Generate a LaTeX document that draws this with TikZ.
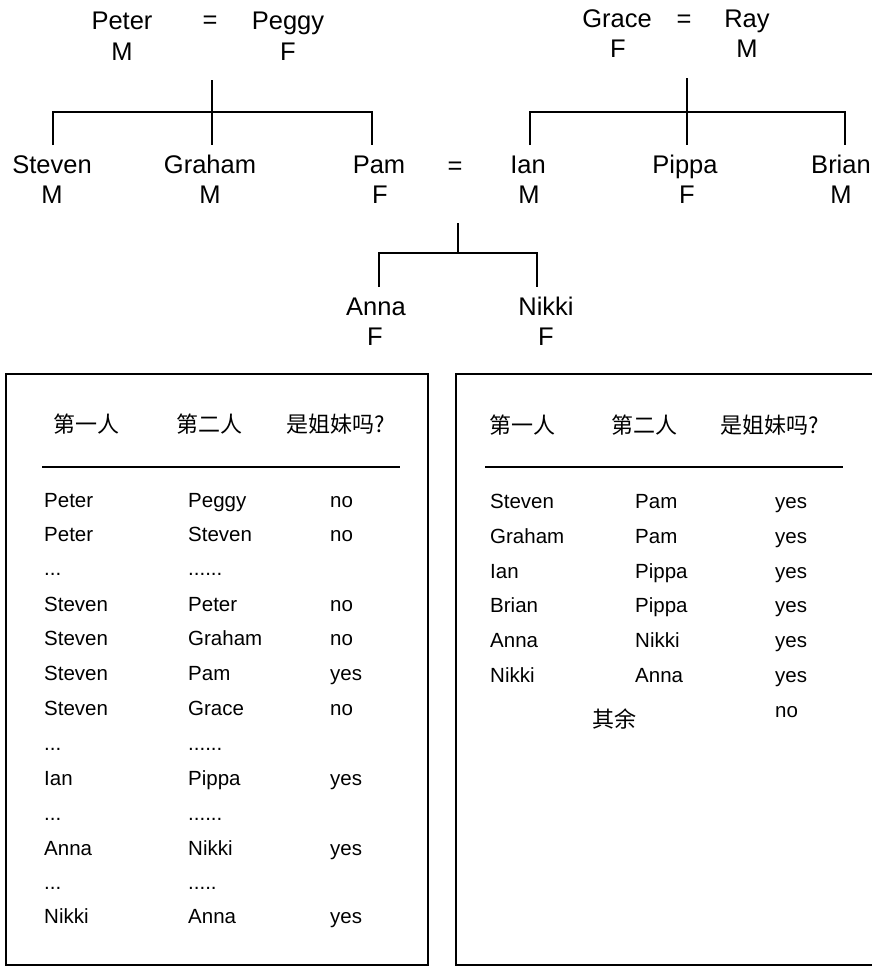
\documentclass[tikz,border=0pt]{standalone}
\usepackage{fontspec}
\setmainfont{Liberation Sans}
\newfontfamily\cjk{Noto Sans CJK SC}
\begin{document}
\begin{tikzpicture}[x=1pt,y=-1pt,
  person/.style={font=\fontsize{25.5}{30}\selectfont, inner sep=0pt, anchor=base},
  eqsign/.style={font=\fontsize{25.5}{30}\selectfont, inner sep=0pt},
  kin/.style={line width=1.3pt},
  cell/.style={font=\fontsize{20.5}{24}\selectfont, inner sep=0pt, anchor=base west},
  head/.style={font=\cjk\fontsize{22}{26}\selectfont, inner sep=0pt},
  frame/.style={line width=1.4pt},
  rulestyle/.style={line width=1.2pt}]
\useasboundingbox (0,0) rectangle (872,966);

% ---------- family tree ----------
\node[person] (peter)  at (122,30) {Peter};
\node[person] (peterS) at (122,60) {M};
\node[eqsign] (eq1)    at (210,22) {=};
\node[person] (peggy)  at (288,30) {Peggy};
\node[person] (peggyS) at (288,60) {F};

\node[person] (grace)  at (617,28) {Grace};
\node[person] (graceS) at (618,58) {F};
\node[eqsign] (eq2)    at (684,21) {=};
\node[person] (ray)    at (747,28) {Ray};
\node[person] (rayS)   at (747,58) {M};

\node[person] (steven)  at (52,173) {Steven};
\node[person] (stevenS) at (52,203) {M};
\node[person] (graham)  at (210,173) {Graham};
\node[person] (grahamS) at (210,203) {M};
\node[person] (pam)     at (379,173) {Pam};
\node[person] (pamS)    at (380,203) {F};
\node[eqsign] (eq3)     at (455,168) {=};
\node[person] (ian)     at (528,173) {Ian};
\node[person] (ianS)    at (529,203) {M};
\node[person] (pippa)   at (685,173) {Pippa};
\node[person] (pippaS)  at (687,203) {F};
\node[person] (brian)   at (841,173) {Brian};
\node[person] (brianS)  at (841,203) {M};

\node[person] (anna)   at (376,315) {Anna};
\node[person] (annaS)  at (375,345) {F};
\node[person] (nikki)  at (546,315) {Nikki};
\node[person] (nikkiS) at (546,345) {F};

\coordinate (f1) at (212,80);
\coordinate (b1) at (212,112);
\coordinate (d-steven) at (53,145);
\coordinate (d-graham) at (212,145);
\coordinate (d-pam) at (372,145);
\draw[kin] (f1) -- (d-graham);
\draw[kin] (d-steven) |- (b1) -| (d-pam);

\coordinate (f2) at (687,78);
\coordinate (b2) at (687,112);
\coordinate (d-ian) at (530,145);
\coordinate (d-pippa) at (687,145);
\coordinate (d-brian) at (845,145);
\draw[kin] (f2) -- (d-pippa);
\draw[kin] (d-ian) |- (b2) -| (d-brian);

\coordinate (f3) at (458,223);
\coordinate (b3) at (458,253);
\coordinate (d-anna) at (379,287);
\coordinate (d-nikki) at (537,287);
\draw[kin] (f3) -- (b3);
\draw[kin] (d-anna) |- (b3) -| (d-nikki);

% ---------- left table ----------
\draw[frame] (6,374) rectangle (428,965);
\node[head] (lh1) at (86,424) {第一人};
\node[head] (lh2) at (209,424) {第二人};
\node[head] (lh3) at (336,424) {是姐妹吗?};
\coordinate (lr1) at (42,467);
\coordinate (lr2) at (400,467);
\draw[rulestyle] (lr1) -- (lr2);

\node[cell] (l1a) at (44,507) {Peter};  \node[cell] (l1b) at (188,507) {Peggy};  \node[cell] (l1c) at (330,507) {no};
\node[cell] (l2a) at (44,541) {Peter};  \node[cell] (l2b) at (188,541) {Steven}; \node[cell] (l2c) at (330,541) {no};
\node[cell] (l3a) at (44,575) {...};    \node[cell] (l3b) at (188,575) {......};
\node[cell] (l4a) at (44,611) {Steven}; \node[cell] (l4b) at (188,611) {Peter};  \node[cell] (l4c) at (330,611) {no};
\node[cell] (l5a) at (44,645) {Steven}; \node[cell] (l5b) at (188,645) {Graham}; \node[cell] (l5c) at (330,645) {no};
\node[cell] (l6a) at (44,680) {Steven}; \node[cell] (l6b) at (188,680) {Pam};    \node[cell] (l6c) at (330,680) {yes};
\node[cell] (l7a) at (44,715) {Steven}; \node[cell] (l7b) at (188,715) {Grace};  \node[cell] (l7c) at (330,715) {no};
\node[cell] (l8a) at (44,750) {...};    \node[cell] (l8b) at (188,750) {......};
\node[cell] (l9a) at (44,785) {Ian};    \node[cell] (l9b) at (188,785) {Pippa};  \node[cell] (l9c) at (330,785) {yes};
\node[cell] (l10a) at (44,820) {...};   \node[cell] (l10b) at (188,820) {......};
\node[cell] (l11a) at (44,855) {Anna};  \node[cell] (l11b) at (188,855) {Nikki}; \node[cell] (l11c) at (330,855) {yes};
\node[cell] (l12a) at (44,889) {...};   \node[cell] (l12b) at (188,889) {.....};
\node[cell] (l13a) at (44,923) {Nikki}; \node[cell] (l13b) at (188,923) {Anna};  \node[cell] (l13c) at (330,923) {yes};

% ---------- right table ----------
\draw[frame] (456,374) rectangle (880,965);
\node[head] (rh1) at (522,425) {第一人};
\node[head] (rh2) at (644,425) {第二人};
\node[head] (rh3) at (770,425) {是姐妹吗?};
\coordinate (rr1) at (485,467);
\coordinate (rr2) at (843,467);
\draw[rulestyle] (rr1) -- (rr2);

\node[cell] (r1a) at (490,508) {Steven}; \node[cell] (r1b) at (635,508) {Pam};   \node[cell] (r1c) at (775,508) {yes};
\node[cell] (r2a) at (490,543) {Graham}; \node[cell] (r2b) at (635,543) {Pam};   \node[cell] (r2c) at (775,543) {yes};
\node[cell] (r3a) at (490,578) {Ian};    \node[cell] (r3b) at (635,578) {Pippa}; \node[cell] (r3c) at (775,578) {yes};
\node[cell] (r4a) at (490,612) {Brian};  \node[cell] (r4b) at (635,612) {Pippa}; \node[cell] (r4c) at (775,612) {yes};
\node[cell] (r5a) at (490,647) {Anna};   \node[cell] (r5b) at (635,647) {Nikki}; \node[cell] (r5c) at (775,647) {yes};
\node[cell] (r6a) at (490,682) {Nikki};  \node[cell] (r6b) at (635,682) {Anna};  \node[cell] (r6c) at (775,682) {yes};
\node[head] (r7b) at (614,719) {其余};
\node[cell] (r7c) at (775,717) {no};
\end{tikzpicture}
\end{document}
